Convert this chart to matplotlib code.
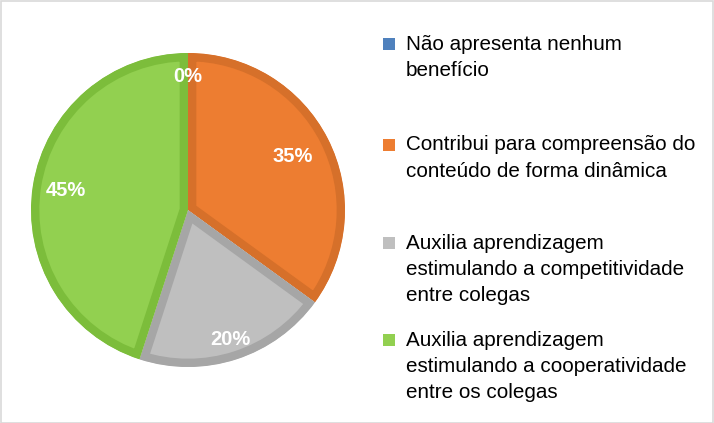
import matplotlib
matplotlib.use("Agg")
import matplotlib.pyplot as plt
import numpy as np

categories = [
    "Não apresenta nenhum\nbenefício",
    "Contribui para compreensão do\nconteúdo de forma dinâmica",
    "Auxilia aprendizagem\nestimulando a competitividade\nentre colegas",
    "Auxilia aprendizagem\nestimulando a cooperatividade\nentre os colegas",
]
values = [0, 35, 20, 45]
pct_labels = ["0%", "35%", "20%", "45%"]

fills = ["#4F81BD", "#ED7D31", "#BFBFBF", "#92D050"]
edges = ["#3F6FA8", "#D6702A", "#A6A6A6", "#7CBD3B"]
label_r = [0.85, 0.75, 0.87, 0.79]

plt.rcParams['font.family'] = ['Liberation Sans', 'DejaVu Sans']

W, H = 714, 423
fig = plt.figure(figsize=(W / 100, H / 100), dpi=100)
cx, cy, R = 188, 210, 157
pad = 1.05
ax = fig.add_axes([(cx - pad * R) / W, (H - cy - pad * R) / H,
                   2 * pad * R / W, 2 * pad * R / H])

wedges, _ = ax.pie(values, colors=fills, startangle=90, counterclock=False,
                   radius=1.0, wedgeprops=dict(linewidth=12))
ax.set_xlim(-pad, pad)
ax.set_ylim(-pad, pad)
ax.set_aspect('equal')
ax.axis('off')
for w, ec in zip(wedges, edges):
    w.set_edgecolor(ec)
    w.set_clip_path(w)
    w.set_clip_on(True)

total = sum(values)
start = 90.0
for v, lab, r in zip(values, pct_labels, label_r):
    ang = start - 360.0 * v / total / 2
    start -= 360.0 * v / total
    a = np.deg2rad(ang)
    ax.text(r * np.cos(a), r * np.sin(a), lab, ha='center', va='center',
            color='white', fontsize=14.5, fontweight='bold')

# legend
entry_y = [44, 145, 243, 340]
line_h = 26
for cat, col, y0 in zip(categories, fills, entry_y):
    fig.patches.append(plt.Rectangle(((383) / W, 1 - (y0 + 6) / H), 12 / W, 12 / H,
                                     transform=fig.transFigure, facecolor=col,
                                     edgecolor='none'))
    for i, line in enumerate(cat.split("\n")):
        fig.text(406 / W, 1 - (y0 + i * line_h) / H, line, ha='left', va='center',
                 fontsize=14.9, color='black')

# figure border
fig.patches.append(plt.Rectangle((0.5 / W, 0.5 / H), 1 - 1.5 / W, 1 - 1.5 / H,
                                 transform=fig.transFigure, facecolor='none',
                                 edgecolor='#D9D9D9', linewidth=1.2))

fig.savefig("out.png", dpi=100)
